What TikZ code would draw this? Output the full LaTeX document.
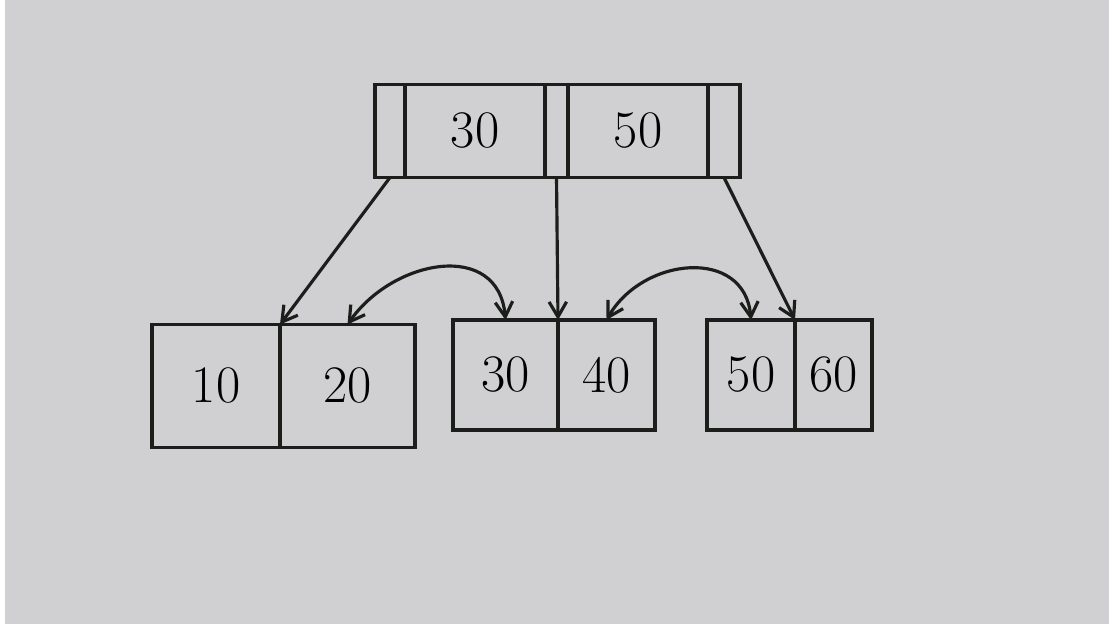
\documentclass[tikz,border=0pt]{standalone}
\usepackage{xcolor}
\usepackage{tikz}
\usetikzlibrary{arrows.meta,positioning}

\definecolor{paper}{RGB}{208,207,210}
\definecolor{ink}{RGB}{28,30,28}

\begin{document}
\begin{tikzpicture}[
  node distance=0pt,
  cell/.style={draw=ink, line width=2pt, inner sep=0pt, outer sep=0pt,
    minimum height=1.86cm, font=\fontsize{30}{34}\selectfont},
  slot/.style={cell, minimum width=0.6cm},
  leaf/.style={cell, minimum height=2.2cm},
  arr/.style={-{Straight Barb[length=3mm,width=3.5mm]}, draw=ink, line width=1.8pt},
  link/.style={{Straight Barb[length=3mm,width=3.5mm]}-{Straight Barb[length=3mm,width=3.5mm]},
    draw=ink, line width=1.8pt}
]
% paper
\fill[white] (0,0) rectangle (22.18,12.48);
\fill[paper] (0.1,0) rectangle (22.18,12.48);
\useasboundingbox (0,0) rectangle (22.18,12.48);

% root
\node[slot] (r0) at (7.8,9.86) {};
\node[cell, minimum width=2.8cm, right=of r0] (r1) {30};
\node[slot, minimum width=0.46cm, right=of r1] (r2) {};
\node[cell, minimum width=2.8cm, right=of r2] (r3) {50};
\node[slot, minimum width=0.64cm, right=of r3] (r4) {};

% leaves
\node[leaf, minimum width=2.56cm, minimum height=2.46cm] (l1a) at (4.32,4.76) {10};
\node[leaf, minimum width=2.7cm, minimum height=2.46cm, right=of l1a] (l1b) {20};
\node[leaf, minimum width=2.1cm] (l2a) at (10.11,4.98) {30};
\node[leaf, minimum width=1.94cm, right=of l2a] (l2b) {40};
\node[leaf, minimum width=1.76cm] (l3a) at (15.02,4.98) {50};
\node[leaf, minimum width=1.54cm, right=of l3a] (l3b) {60};

% child pointers
\draw[arr] (r0.south) -- (l1a.north east);
\draw[arr] (r2.south) -- (l2a.north east);
\draw[arr] (r4.south) -- (l3a.north east);

% sibling links
\draw[link] (l1b.north) to[out=55, in=95, looseness=1.3] (l2a.north);
\draw[link] (l2b.north) to[out=60, in=95, looseness=1.3] (l3a.north);
\end{tikzpicture}
\end{document}
